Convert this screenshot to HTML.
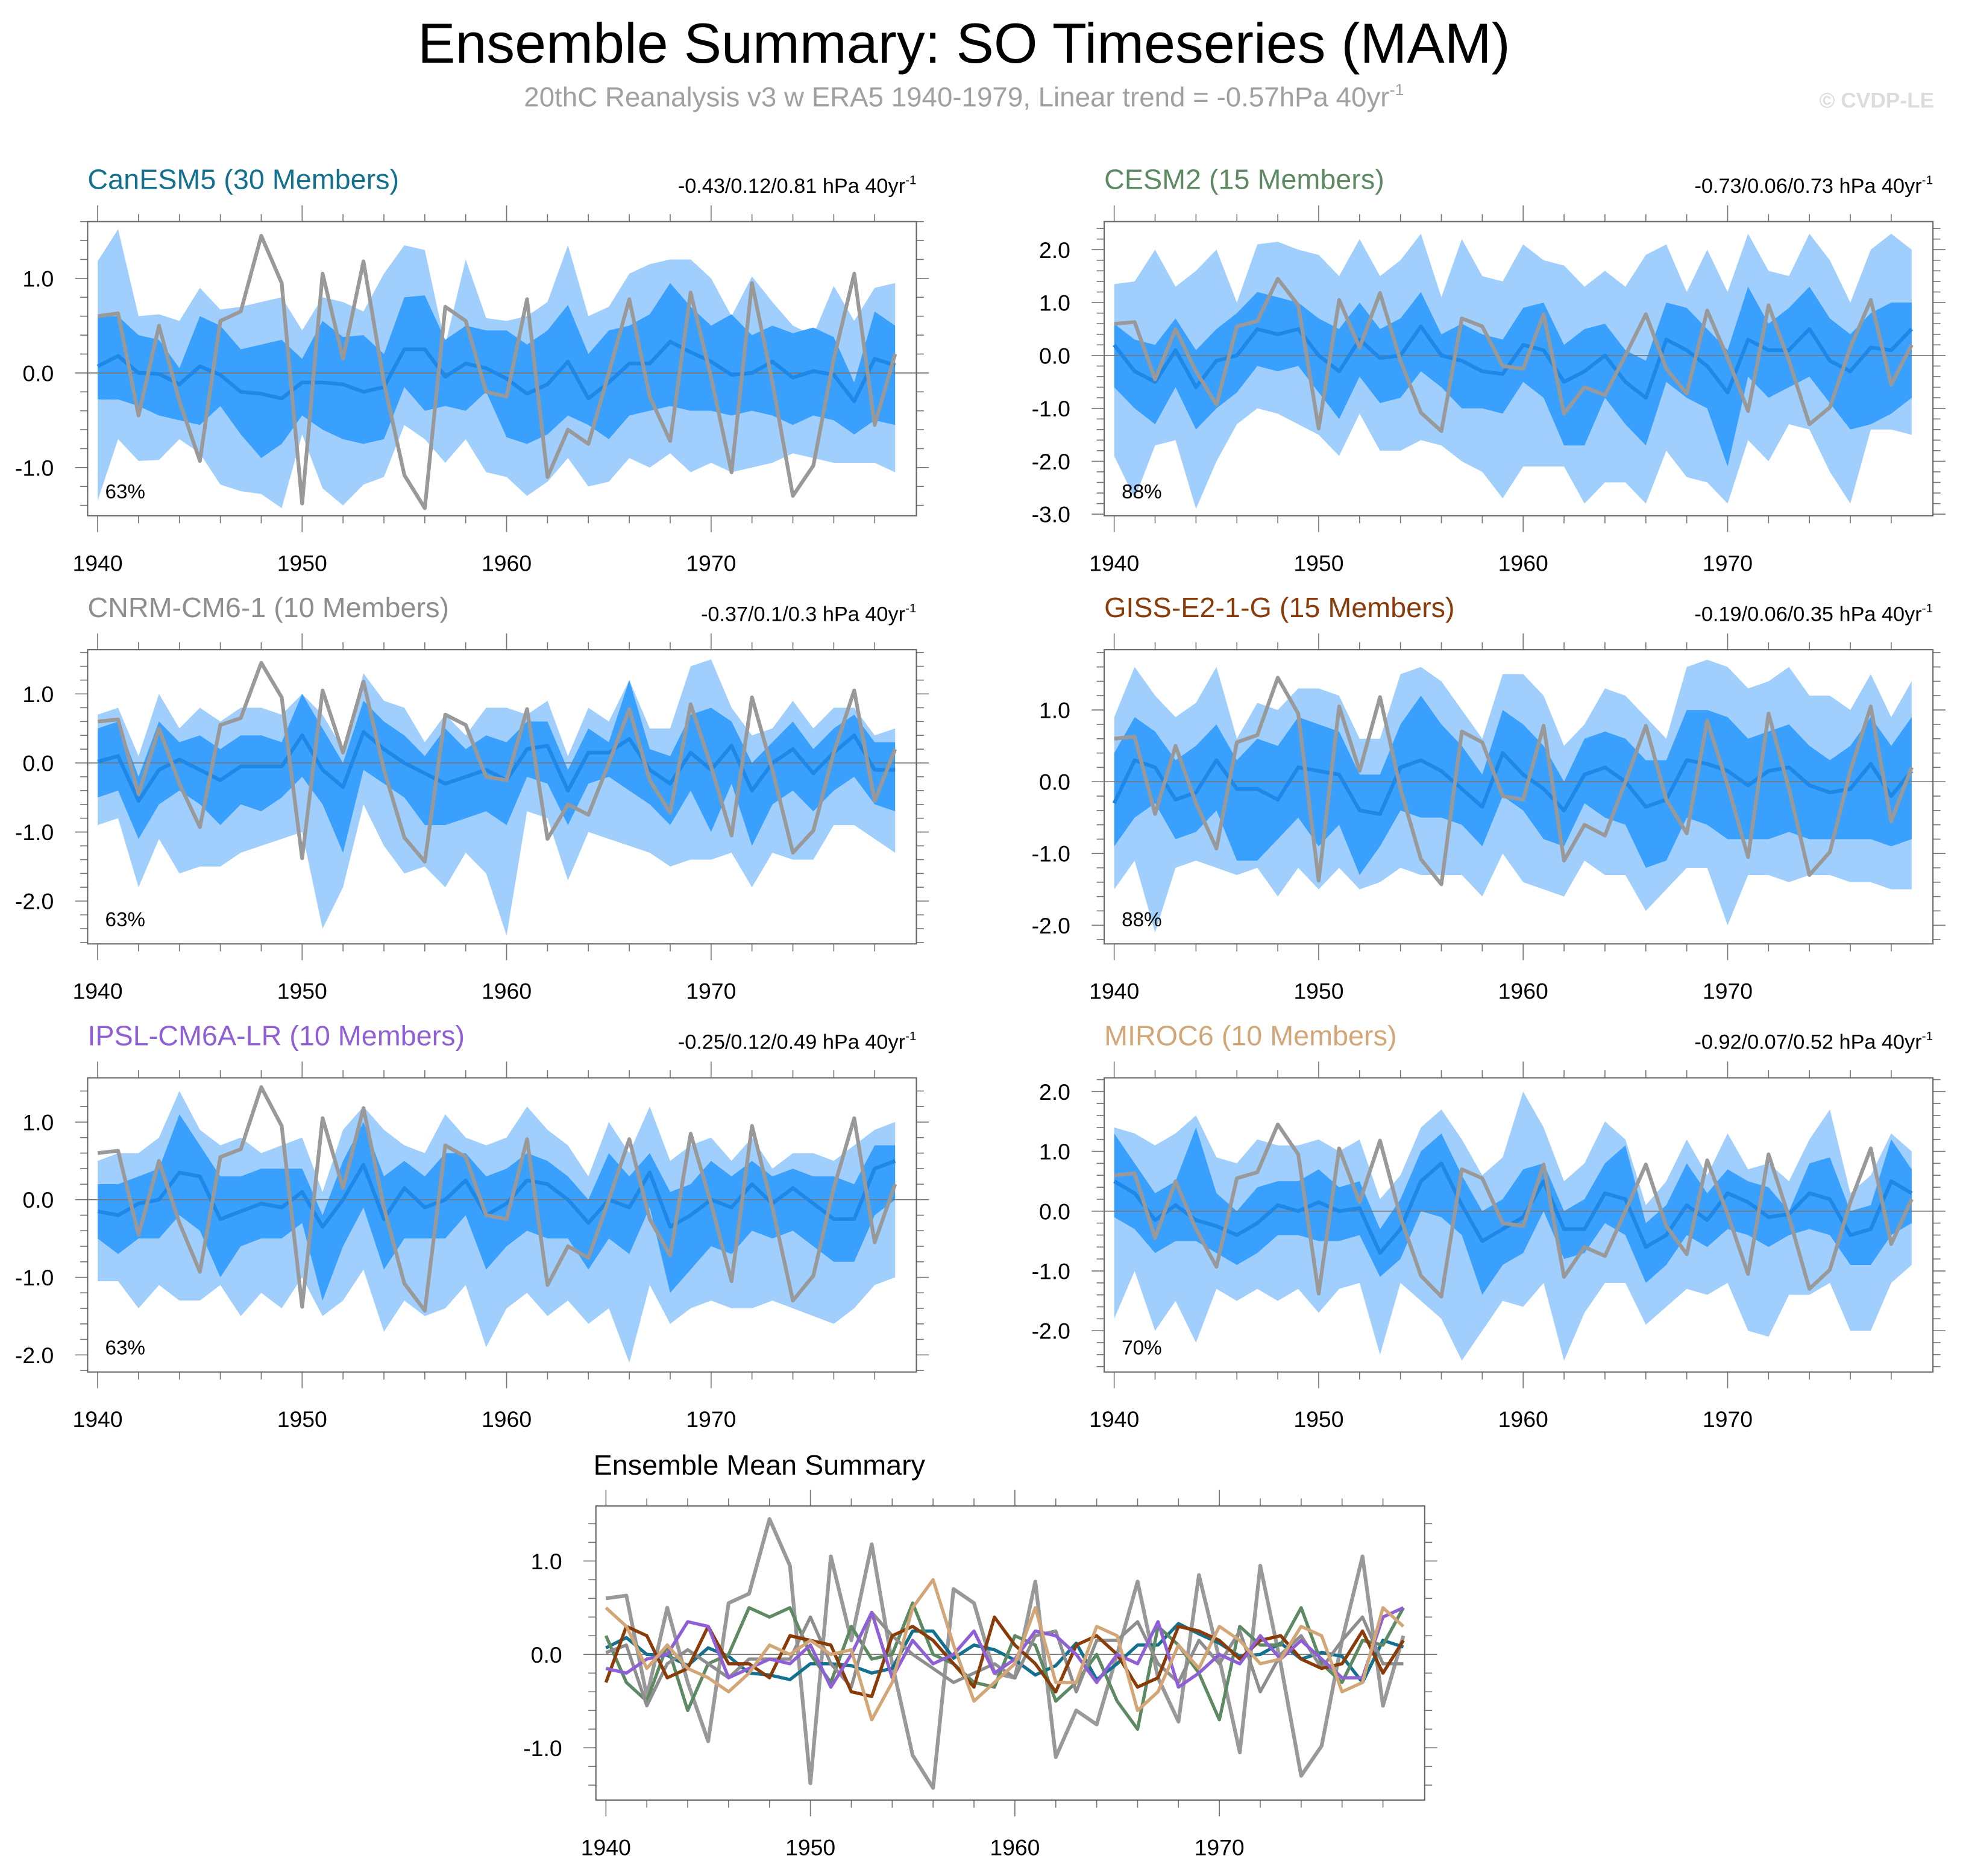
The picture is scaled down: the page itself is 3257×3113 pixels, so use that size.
<!DOCTYPE html>
<html><head><meta charset="utf-8"><style>
html,body{margin:0;padding:0;background:#fff}
svg{display:block}
text{font-family:"Liberation Sans",sans-serif}
</style></head><body>
<svg id="fig" xmlns="http://www.w3.org/2000/svg" width="3257" height="3113" viewBox="0 0 1568 1498.6">
<rect width="1568" height="1499" fill="#fff"/>
<text x="770" y="50" font-size="45" text-anchor="middle" fill="#000">Ensemble Summary: SO Timeseries (MAM)</text>
<text x="770" y="85" font-size="22" text-anchor="middle" fill="#a0a0a0">20thC Reanalysis v3 w ERA5 1940-1979, Linear trend = -0.57hPa 40yr<tspan dy="-9" font-size="13">-1</tspan></text>
<text x="1545" y="86" font-size="17" font-weight="bold" text-anchor="end" fill="#dcdcdc">© CVDP-LE</text>
<g id="plots"></g>
</svg>
<script>
const years = []; for (let y = 1940; y <= 1979; y++) years.push(y);
const obs = [0.6,0.63,-0.45,0.5,-0.3,-0.93,0.55,0.65,1.45,0.95,-1.38,1.05,0.15,1.18,-0.1,-1.08,-1.43,0.7,0.55,-0.2,-0.25,0.78,-1.1,-0.6,-0.75,0.0,0.78,-0.25,-0.72,0.85,-0.05,-1.05,0.95,-0.1,-1.3,-0.98,0.15,1.05,-0.55,0.2];

const canMean = [0.07,0.18,0.0,-0.01,-0.12,0.07,-0.02,-0.2,-0.22,-0.27,-0.1,-0.1,-0.12,-0.2,-0.15,0.25,0.25,-0.04,0.1,0.05,-0.06,-0.22,-0.12,0.12,-0.27,-0.1,0.1,0.1,0.33,0.22,0.12,-0.02,0.0,0.12,-0.05,0.02,-0.02,-0.3,0.15,0.08];
const canLightHi = [1.18,1.52,0.6,0.62,0.55,0.9,0.67,0.7,0.75,0.8,0.45,0.8,0.75,0.65,1.05,1.35,1.3,0.3,1.2,0.58,0.55,0.6,0.75,1.35,0.6,0.7,1.05,1.15,1.2,1.2,1.0,0.6,1.02,0.75,0.5,0.4,0.92,0.55,0.9,0.95];
const canDarkHi = [0.6,0.6,0.4,0.35,0.05,0.6,0.5,0.25,0.3,0.35,0.15,0.55,0.38,0.4,0.2,0.8,0.82,0.35,0.5,0.45,0.45,0.3,0.45,0.72,0.2,0.45,0.5,0.62,0.95,0.7,0.5,0.62,0.4,0.5,0.42,0.48,0.38,-0.1,0.65,0.5];
const canDarkLo = [-0.28,-0.28,-0.35,-0.45,-0.5,-0.55,-0.35,-0.65,-0.9,-0.75,-0.45,-0.6,-0.7,-0.75,-0.7,-0.15,-0.4,-0.35,-0.4,-0.2,-0.68,-0.75,-0.65,-0.45,-0.55,-0.7,-0.45,-0.4,-0.35,-0.4,-0.4,-0.45,-0.4,-0.45,-0.55,-0.45,-0.5,-0.65,-0.5,-0.55];
const canLightLo = [-1.35,-0.7,-0.93,-0.92,-0.7,-0.85,-1.18,-1.25,-1.28,-1.43,-0.65,-1.22,-1.4,-1.18,-1.1,-0.55,-0.7,-0.95,-0.7,-1.05,-1.1,-1.3,-1.15,-0.9,-1.2,-1.15,-0.9,-1.0,-0.85,-1.05,-0.95,-1.05,-1.0,-0.95,-0.85,-0.9,-0.95,-0.95,-0.95,-1.05];

const cesMean = [0.2,-0.3,-0.5,0.1,-0.6,-0.1,0.0,0.5,0.4,0.5,0.0,-0.3,0.3,-0.05,0.0,0.55,0.0,-0.1,-0.3,-0.35,0.2,0.1,-0.5,-0.3,0.0,-0.5,-0.8,0.3,0.1,-0.2,-0.7,0.3,0.1,0.1,0.5,-0.1,-0.3,0.15,0.1,0.5];
const cesLightHi = [1.35,1.4,2.0,1.3,1.6,2.0,1.0,2.1,2.15,2.0,1.9,1.5,2.2,1.5,1.8,2.3,1.1,2.2,1.5,1.4,2.1,1.8,1.7,1.3,1.6,1.3,1.9,2.1,1.2,2.0,1.2,2.3,1.6,1.5,2.3,1.8,1.0,2.0,2.3,2.0];
const cesDarkHi = [0.6,0.3,0.2,0.7,0.1,0.5,0.8,1.2,1.1,1.0,0.7,0.5,1.0,0.5,0.7,1.2,0.4,0.6,0.4,0.3,0.9,1.0,0.2,0.5,0.6,0.1,-0.1,1.0,0.9,0.5,0.1,1.3,0.6,0.9,1.3,0.7,0.4,0.8,1.0,1.0];
const cesDarkLo = [-0.6,-1.0,-1.3,-0.6,-1.4,-1.0,-0.7,-0.2,-0.3,-0.2,-0.7,-1.2,-0.4,-0.9,-0.8,-0.3,-0.6,-1.0,-1.0,-1.1,-0.5,-0.8,-1.7,-1.7,-0.8,-1.3,-1.7,-0.5,-0.8,-1.0,-2.1,-0.4,-0.8,-0.6,-0.4,-0.9,-1.4,-1.3,-1.1,-0.8];
const cesLightLo = [-1.9,-2.7,-1.7,-1.6,-2.9,-2.0,-1.3,-1.0,-1.1,-1.3,-1.5,-1.9,-1.1,-1.8,-1.8,-1.6,-1.7,-2.0,-2.2,-2.7,-2.1,-2.1,-2.1,-2.8,-2.4,-2.4,-2.8,-1.8,-2.3,-2.4,-2.8,-1.6,-2.0,-1.3,-1.4,-2.2,-2.8,-1.4,-1.4,-1.5];

const cnrMean = [0.02,0.1,-0.55,-0.1,0.05,-0.1,-0.25,-0.05,-0.05,-0.05,0.4,-0.1,-0.35,0.45,0.2,0.0,-0.15,-0.3,-0.2,-0.1,-0.25,0.2,0.25,-0.4,0.15,0.15,0.35,-0.1,-0.3,0.15,-0.1,0.25,-0.4,0.0,0.2,-0.15,0.15,0.4,-0.1,-0.1];
const cnrLightHi = [0.7,0.8,0.1,1.0,0.5,0.8,0.6,0.8,0.8,0.7,1.0,0.7,0.2,1.3,0.9,0.8,0.3,0.7,0.4,0.8,0.8,0.7,0.9,0.1,0.8,0.6,1.2,0.5,0.5,1.4,1.5,0.8,0.4,0.5,0.9,0.5,0.8,0.8,0.4,0.5];
const cnrDarkHi = [0.5,0.6,-0.2,0.6,0.3,0.4,0.2,0.4,0.4,0.3,1.0,0.5,0.0,0.9,0.6,0.4,0.1,0.5,0.2,0.4,0.3,0.6,0.6,-0.1,0.5,0.3,1.2,0.2,0.1,0.7,0.8,0.6,0.0,0.3,0.6,0.2,0.5,0.7,0.3,0.3];
const cnrDarkLo = [-0.5,-0.4,-1.1,-0.6,-0.4,-0.6,-0.9,-0.6,-0.7,-0.5,-0.2,-0.6,-1.3,-0.1,-0.3,-0.5,-0.9,-0.9,-0.8,-0.7,-0.9,-0.2,-0.3,-0.9,-0.3,-0.2,-0.4,-0.6,-0.9,-0.4,-1.0,-0.3,-1.2,-0.6,-0.4,-0.7,-0.4,-0.2,-0.6,-0.7];
const cnrLightLo = [-0.9,-0.8,-1.8,-1.1,-1.6,-1.5,-1.5,-1.3,-1.2,-1.1,-1.0,-2.4,-1.8,-0.6,-1.2,-1.6,-1.5,-1.8,-1.3,-1.6,-2.5,-0.7,-0.8,-1.7,-1.0,-1.1,-1.2,-1.3,-1.5,-1.4,-1.4,-1.3,-1.8,-1.3,-1.4,-1.4,-0.9,-0.9,-1.1,-1.3];

const gisMean = [-0.3,0.3,0.2,-0.25,-0.15,0.3,-0.1,-0.1,-0.25,0.2,0.15,0.1,-0.4,-0.45,0.2,0.3,0.15,-0.1,-0.35,0.4,0.1,-0.1,-0.4,0.1,0.2,0.0,-0.35,-0.25,0.3,0.25,0.15,-0.05,0.15,0.2,-0.05,-0.15,-0.1,0.25,-0.2,0.15];
const gisLightHi = [0.9,1.6,1.2,0.9,1.1,1.6,0.6,1.1,1.0,1.3,1.3,1.2,0.6,0.6,1.5,1.6,1.4,1.0,0.6,1.5,1.5,1.2,0.5,0.8,1.3,1.2,0.9,0.6,1.6,1.7,1.6,1.3,1.4,1.6,1.2,1.2,1.0,1.5,0.9,1.4];
const gisDarkHi = [0.4,0.9,0.7,0.3,0.5,0.8,0.3,0.6,0.5,0.9,0.8,0.7,0.1,0.1,0.8,1.2,0.8,0.5,0.1,1.0,0.8,0.5,0.0,0.6,0.7,0.6,0.3,0.3,1.0,1.0,0.9,0.6,0.7,0.8,0.5,0.3,0.5,0.9,0.5,0.9];
const gisDarkLo = [-0.9,-0.5,-0.3,-0.8,-0.7,-0.4,-1.1,-1.1,-0.8,-0.5,-0.9,-0.6,-1.3,-0.9,-0.4,-0.5,-0.5,-0.6,-0.9,-0.2,-0.4,-0.8,-0.9,-0.3,-0.5,-0.6,-1.2,-1.1,-0.5,-0.6,-0.8,-0.8,-0.8,-0.7,-0.8,-0.8,-0.8,-0.8,-0.9,-0.8];
const gisLightLo = [-1.5,-1.1,-2.1,-1.2,-1.1,-1.2,-1.3,-1.2,-1.6,-1.2,-1.5,-1.2,-1.5,-1.4,-1.2,-1.3,-1.3,-1.3,-1.6,-1.0,-1.4,-1.5,-1.6,-1.1,-1.3,-1.3,-1.8,-1.5,-1.2,-1.2,-2.0,-1.3,-1.3,-1.4,-1.3,-1.3,-1.4,-1.4,-1.5,-1.5];

const ipsMean = [-0.15,-0.2,-0.05,0.0,0.35,0.3,-0.25,-0.15,-0.05,-0.1,0.1,-0.35,0.0,0.45,-0.25,0.15,-0.1,0.0,0.25,-0.2,-0.05,0.25,0.2,0.0,-0.3,0.0,-0.1,0.35,-0.35,-0.2,0.0,-0.1,0.2,-0.05,0.15,-0.05,-0.25,-0.25,0.4,0.5];
const ipsLightHi = [0.5,0.6,0.6,0.8,1.4,0.9,0.7,0.8,0.6,0.7,0.8,0.1,0.9,1.2,0.9,0.7,0.6,1.1,0.8,0.7,0.8,1.2,0.9,0.7,0.3,1.0,0.6,1.2,0.5,0.7,0.8,0.5,0.8,0.4,0.6,0.6,0.5,0.7,0.9,1.0];
const ipsDarkHi = [0.2,0.2,0.3,0.4,1.1,0.7,0.3,0.3,0.4,0.4,0.4,-0.2,0.5,1.0,0.3,0.5,0.3,0.6,0.6,0.3,0.4,0.6,0.5,0.3,0.0,0.6,0.3,0.6,0.1,0.2,0.5,0.3,0.5,0.3,0.4,0.3,0.3,0.2,0.7,0.7];
const ipsDarkLo = [-0.5,-0.7,-0.5,-0.5,-0.2,-0.4,-1.0,-0.6,-0.5,-0.5,-0.3,-1.3,-0.6,-0.1,-0.9,-0.5,-0.5,-0.5,-0.2,-0.9,-0.6,-0.4,-0.5,-0.5,-0.9,-0.5,-0.7,-0.1,-1.2,-0.9,-0.6,-0.7,-0.4,-0.5,-0.4,-0.6,-0.8,-0.8,-0.2,0.0];
const ipsLightLo = [-1.05,-1.05,-1.4,-1.1,-1.3,-1.3,-1.1,-1.5,-1.2,-1.4,-1.0,-1.5,-1.3,-0.9,-1.7,-1.3,-1.5,-1.4,-1.1,-1.9,-1.4,-1.2,-1.5,-1.3,-1.6,-1.4,-2.1,-1.1,-1.6,-1.4,-1.3,-1.4,-1.4,-1.3,-1.4,-1.5,-1.6,-1.4,-1.1,-1.0];

const mirMean = [0.5,0.3,-0.15,0.1,-0.15,-0.25,-0.4,-0.2,0.1,0.0,0.15,0.0,0.05,-0.7,-0.3,0.5,0.8,0.1,-0.5,-0.3,-0.1,0.5,-0.3,-0.3,0.3,0.2,-0.6,-0.4,0.1,-0.15,0.3,0.15,-0.1,-0.05,0.3,0.2,-0.4,-0.3,0.5,0.3];
const mirLightHi = [1.4,1.3,1.1,1.3,1.6,0.9,0.8,1.2,1.1,1.1,1.2,1.0,1.2,0.2,0.6,1.4,1.7,1.2,0.6,0.9,2.0,1.4,0.5,0.8,1.5,1.2,0.1,0.5,1.2,0.6,1.3,0.7,0.8,0.5,1.2,1.7,0.3,0.6,1.3,1.0];
const mirDarkHi = [1.3,0.8,0.3,0.5,1.4,0.3,0.0,0.4,0.5,0.5,0.7,0.4,0.5,-0.3,0.2,1.0,1.3,0.6,0.0,0.2,0.7,0.8,0.0,0.2,0.8,1.1,-0.2,0.1,0.8,0.3,0.7,0.5,0.4,0.0,0.8,0.9,0.0,0.1,1.2,0.7];
const mirDarkLo = [-0.1,-0.3,-0.7,-0.5,-0.5,-0.7,-0.9,-0.7,-0.4,-0.4,-0.5,-0.5,-0.4,-1.1,-0.8,0.0,-0.1,-0.4,-1.4,-0.9,-0.7,0.0,-0.8,-0.7,-0.2,-0.4,-1.2,-0.9,-0.4,-0.6,-0.3,-0.4,-0.6,-0.4,-0.3,-0.4,-0.9,-0.9,-0.4,-0.2];
const mirLightLo = [-1.8,-1.0,-2.0,-1.5,-2.2,-1.3,-1.5,-1.3,-1.5,-1.3,-1.7,-1.3,-1.2,-2.4,-1.2,-1.5,-1.8,-2.5,-2.0,-1.5,-1.6,-1.2,-2.5,-1.7,-1.2,-1.2,-1.9,-1.6,-1.3,-1.4,-1.2,-2.0,-2.1,-1.4,-1.4,-1.2,-2.0,-2.0,-1.2,-0.9];

const modelNames = ["CanESM5 (30 Members)","CESM2 (15 Members)","CNRM-CM6-1 (10 Members)","GISS-E2-1-G (15 Members)","IPSL-CM6A-LR (10 Members)","MIROC6 (10 Members)"];
const modelColors = ["#13708f","#5d8a62","#8e8e8e","#8a3b0a","#8e5fd5","#d2a676"];
const statsLabels = ["-0.43/0.12/0.81","-0.73/0.06/0.73","-0.37/0.1/0.3","-0.19/0.06/0.35","-0.25/0.12/0.49","-0.92/0.07/0.52"];
const pctLabels = ["63%","88%","63%","88%","63%","70%"];
const yTickSets = [[-1,0,1],[-3,-2,-1,0,1,2],[-2,-1,0,1],[-2,-1,0,1],[-2,-1,0,1],[-2,-1,0,1,2]];
const xTicks = [1940,1950,1960,1970];
const means = [canMean,cesMean,cnrMean,gisMean,ipsMean,mirMean];
const lightHis = [canLightHi,cesLightHi,cnrLightHi,gisLightHi,ipsLightHi,mirLightHi];
const darkHis = [canDarkHi,cesDarkHi,cnrDarkHi,gisDarkHi,ipsDarkHi,mirDarkHi];
const darkLos = [canDarkLo,cesDarkLo,cnrDarkLo,gisDarkLo,ipsDarkLo,mirDarkLo];
const lightLos = [canLightLo,cesLightLo,cnrLightLo,gisLightLo,ipsLightLo,mirLightLo];

const frames = [
 {x:70,y:177,vmax:1.60,vmin:-1.51},
 {x:882,y:177,vmax:2.53,vmin:-3.03},
 {x:70,y:519,vmax:1.64,vmin:-2.62},
 {x:882,y:519,vmax:1.84,vmin:-2.26},
 {x:70,y:861,vmax:1.57,vmin:-2.22},
 {x:882,y:861,vmax:2.23,vmin:-2.69}
];
const W = 662, H = 235;
const NS = "http://www.w3.org/2000/svg";
const root = document.getElementById('plots');
function mk(tag, attrs, parent){ const e=document.createElementNS(NS,tag); for(const k in attrs) e.setAttribute(k,attrs[k]); (parent||root).appendChild(e); return e; }

function axes(f){
  const xs = yr => f.x + 8 + (yr-1940)*(W-25)/39;
  const ys = v => f.y + (f.vmax - v)/(f.vmax - f.vmin)*H;
  return {xs, ys};
}
function pathFrom(xsArr, valsArr, sx, sy){ return valsArr.map((v,i)=>(i?'L':'M')+sx(xsArr[i]).toFixed(2)+','+sy(v).toFixed(2)).join(''); }
function band(lo, hi, sx, sy){
  let d = hi.map((v,i)=>(i?'L':'M')+sx(years[i]).toFixed(2)+','+sy(v).toFixed(2)).join('');
  for(let i=lo.length-1;i>=0;i--) d += 'L'+sx(years[i]).toFixed(2)+','+sy(lo[i]).toFixed(2);
  return d+'Z';
}
function drawFrame(g, f, sx, sy, yticks){
  for(let v=Math.ceil(f.vmin*5)/5; v<=f.vmax+1e-9; v+=0.2){
    const vv=Math.round(v*10)/10; const major = yticks.indexOf(vv)>=0; const L = major?10:6;
    const yy = sy(vv);
    mk('line',{x1:f.x-L,x2:f.x,y1:yy,y2:yy,stroke:'#777','stroke-width':0.8},g);
    mk('line',{x1:f.x+W,x2:f.x+W+L,y1:yy,y2:yy,stroke:'#777','stroke-width':0.8},g);
  }
  for(let yr=1940; yr<=1979; yr+=2){
    const major = yr%10===0; const L = major?13:6; const xx=sx(yr);
    mk('line',{x1:xx,x2:xx,y1:f.y-L,y2:f.y,stroke:'#777','stroke-width':0.8},g);
    mk('line',{x1:xx,x2:xx,y1:f.y+H,y2:f.y+H+L,stroke:'#777','stroke-width':0.8},g);
  }
  yticks.forEach(v=>{
    const t = mk('text',{x:f.x-27,y:sy(v)+6.5,'font-size':18,'text-anchor':'end',fill:'#000'},g);
    
    
    t.textContent = v.toFixed(1);
  });
  xTicks.forEach(yr=>{
    const t = mk('text',{x:sx(yr),y:f.y+H+44,'font-size':18,'text-anchor':'middle',fill:'#000'},g);
    
    
    t.textContent = yr;
  });
  const box = mk('rect',{x:f.x,y:f.y,width:W,height:H,fill:'none',stroke:'#666','stroke-width':1},g);
  
  
}

frames.forEach((f,i)=>{
  const g = mk('g',{});
  
  
  const {xs, ys} = axes(f);
  const cp = mk('clipPath',{id:'cp'+i},g); mk('rect',{x:f.x,y:f.y,width:W,height:H},cp);
  const pg = mk('g',{'clip-path':'url(#cp'+i+')'},g);
  const lb = mk('path',{d:band(lightLos[i],lightHis[i],xs,ys),fill:'#a0cffd'},pg);
  
  
  const db = mk('path',{d:band(darkLos[i],darkHis[i],xs,ys),fill:'#3aa0fd'},pg);
  
  
  const zl = mk('line',{x1:f.x,x2:f.x+W,y1:ys(0),y2:ys(0),stroke:'#777','stroke-width':0.8},pg);
  
  
  const ml = mk('path',{d:pathFrom(years,means[i],xs,ys),fill:'none',stroke:'#1e88e8','stroke-width':3,'stroke-linejoin':'round'},pg);
  
  
  const ol = mk('path',{d:pathFrom(years,obs,xs,ys),fill:'none',stroke:'#999','stroke-width':3,'stroke-linejoin':'round'},pg);
  
  
  drawFrame(g,f,xs,ys,yTickSets[i]);
  const tt = mk('text',{x:f.x,y:f.y-26,'font-size':22.5,fill:modelColors[i]},g);
  
  
  tt.textContent = modelNames[i];
  const st = mk('text',{x:f.x+W,y:f.y-23,'font-size':16.5,'text-anchor':'end',fill:'#000'},g);
  
  
  st.textContent = statsLabels[i]+' hPa 40yr';
  const sp = mk('tspan',{dy:-7,'font-size':10},st); sp.textContent='-1';
  const pc = mk('text',{x:f.x+14,y:f.y+H-14,'font-size':16,fill:'#000'},g);
  
  
  pc.textContent = pctLabels[i];
});

(function(){
  const f = {x:476,y:1203,vmax:1.59,vmin:-1.56};
  const g = mk('g',{});
  
  
  const {xs, ys} = axes(f);
  const zl = mk('line',{x1:f.x,x2:f.x+W,y1:ys(0),y2:ys(0),stroke:'#777','stroke-width':0.8},g);
  
  
  const ol = mk('path',{d:pathFrom(years,obs,xs,ys),fill:'none',stroke:'#999','stroke-width':3,'stroke-linejoin':'round'},g);
  
  
  means.forEach((m,i)=>{
    const l = mk('path',{d:pathFrom(years,m,xs,ys),fill:'none',stroke:modelColors[i],'stroke-width':2.6,'stroke-linejoin':'round'},g);
    
    
  });
  drawFrame(g,f,xs,ys,[-1,0,1]);
  const tt = mk('text',{x:f.x-2,y:f.y-25,'font-size':22.5,fill:'#000'},g);
  
  
  tt.textContent = 'Ensemble Mean Summary';
})();
</script>
</body></html>
